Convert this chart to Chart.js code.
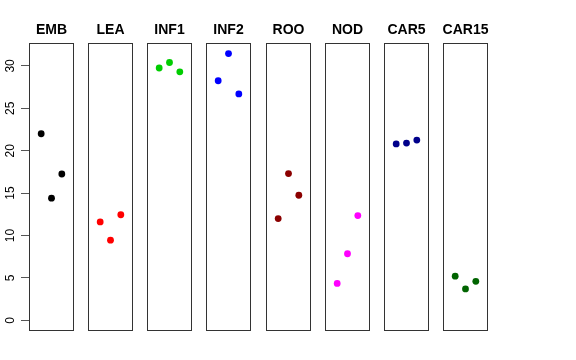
<!DOCTYPE html>
<html>
<head>
<meta charset="utf-8">
<script src="https://cdn.jsdelivr.net/npm/chart.js@4/dist/chart.umd.min.js"></script>
<style>
  body { margin: 0; background: #fff; }
  #wrap { position: relative; width: 576px; height: 360px; }
  #wrap canvas { position: absolute; top: 0; }
</style>
</head>
<body>
<div id="wrap"></div>
<script>
// Panel names and point colours
const panels = ['EMB', 'LEA', 'INF1', 'INF2', 'ROO', 'NOD', 'CAR5', 'CAR15'];
const colors = ['#000000', '#ff0000', '#00cd00', '#0000ff', '#8b0000', '#ff00ff', '#00008b', '#006400'];

// Values, three per panel
const EMB = [22.0, 14.4, 17.25];
const LEA = [11.6, 9.45, 12.45];
const INF1 = [29.75, 30.4, 29.3];
const INF2 = [28.25, 31.45, 26.7];
const ROO = [12.0, 17.3, 14.75];
const NOD = [4.35, 7.85, 12.35];
const CAR5 = [20.8, 20.9, 21.25];
const CAR15 = [5.2, 3.7, 4.6];
const seriesValues = [EMB, LEA, INF1, INF2, ROO, NOD, CAR5, CAR15];

const xPositions = [1, 2, 3];
const yTicks = [0, 5, 10, 15, 20, 25, 30];

// Box round each panel plus its bold title
const boxPlugin = {
    id: 'panelBox',
    afterDraw(chart, args, opts) {
        const a = chart.chartArea;
        const ctx = chart.ctx;
        ctx.save();
        ctx.strokeStyle = '#333';
        ctx.lineWidth = 1;
        ctx.strokeRect(a.left + 0.5, a.top + 0.5, a.right - a.left - 1, a.bottom - a.top - 1);
        ctx.fillStyle = '#000';
        ctx.font = 'bold 14px "Liberation Sans", Arial, sans-serif';
        ctx.textAlign = 'center';
        ctx.textBaseline = 'alphabetic';
        ctx.fillText(opts.name, (a.left + a.right) / 2, 34);
        ctx.restore();
    }
};

const wrap = document.getElementById('wrap');
const side = 8; // extra room either side so the titles are not cut

panels.forEach((name, i) => {
    const first = i === 0;
    const panelLeft = Math.round(29 + i * 59.14);
    const canvas = document.createElement('canvas');
    const left = first ? 0 : panelLeft - side;
    const width = first ? panelLeft + 45 + side : 45 + 2 * side;
    canvas.width = width;
    canvas.height = 360;
    canvas.style.left = left + 'px';
    canvas.style.width = width + 'px';
    canvas.style.height = '360px';
    wrap.appendChild(canvas);

    const yScale = {
        type: 'linear',
        min: -1.26,
        max: 32.7,
        display: first,
        afterBuildTicks: scale => {
            scale.ticks = yTicks.map(v => ({ value: v }));
        },
        border: { display: false },
        grid: {
            drawOnChartArea: false,
            drawTicks: true,
            tickLength: 8,
            color: '#555'
        },
        ticks: {
            minRotation: 90,
            maxRotation: 90,
            crossAlign: 'center',
            padding: 4,
            color: '#000',
            font: { family: '"Liberation Sans", Arial, sans-serif', size: 12 }
        }
    };
    if (first) {
        yScale.afterFit = scale => { scale.width = 29; };
    }

    new Chart(canvas, {
        type: 'scatter',
        data: {
            datasets: [{
                data: xPositions.map((x, j) => ({ x: x, y: seriesValues[i][j] })),
                backgroundColor: colors[i],
                borderColor: colors[i],
                pointRadius: 3.4,
                pointBorderWidth: 0
            }]
        },
        options: {
            responsive: false,
            animation: false,
            layout: { padding: { top: 43, bottom: 29, left: first ? 0 : side, right: side } },
            plugins: {
                legend: { display: false },
                tooltip: { enabled: false },
                panelBox: { name: name }
            },
            scales: {
                x: {
                    type: 'linear',
                    min: -0.18,
                    max: 4.18,
                    display: false
                },
                y: yScale
            }
        },
        plugins: [boxPlugin]
    });
});
</script>
</body>
</html>
